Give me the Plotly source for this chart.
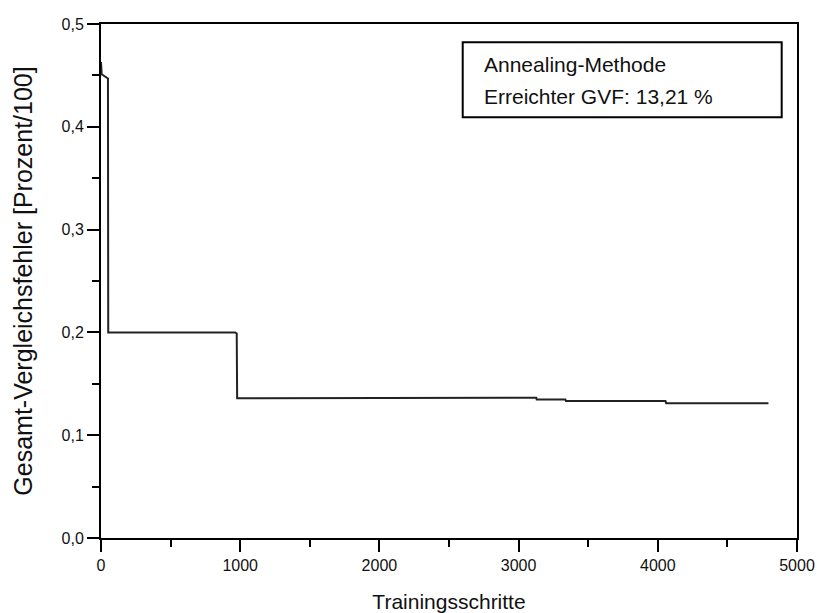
import plotly.graph_objects as go

# Data
steps = [0, 0, 5, 50, 52, 965, 975, 978, 3127, 3130, 3336, 3340, 4055, 4060, 4795]
error = [0.463, 0.452, 0.451, 0.447, 0.200, 0.200, 0.199, 0.136, 0.1364, 0.1348,
         0.1348, 0.1333, 0.1333, 0.1312, 0.1312]

x_ticks = [0, 1000, 2000, 3000, 4000, 5000]
y_ticks = [0.0, 0.1, 0.2, 0.3, 0.4, 0.5]

legend_lines = ["Annealing-Methode", "Erreichter GVF: 13,21 %"]

FONT = "Liberation Sans, Arial, sans-serif"

fig = go.Figure()
fig.add_trace(go.Scatter(x=steps, y=error, mode="lines",
                         line=dict(color="#222222", width=2),
                         showlegend=False, hoverinfo="skip"))

axis_common = dict(showgrid=False, zeroline=False, showline=True, linecolor="black",
                   linewidth=2, mirror=True, ticks="outside", ticklen=12, tickwidth=2,
                   tickcolor="black", automargin=False,
                   tickfont=dict(family=FONT, size=16, color="#111111"))

fig.update_xaxes(range=[0, 5000], tickvals=x_ticks, tickformat="d",
                 minor=dict(dtick=500, ticklen=7, tickwidth=2, tickcolor="black", ticks="outside"),
                 title=dict(text="Trainingsschritte", font=dict(family=FONT, size=21, color="#111111"),
                            standoff=24),
                 **axis_common)
fig.update_yaxes(range=[0, 0.5], tickvals=y_ticks, tickformat=".1f",
                 minor=dict(dtick=0.05, ticklen=7, tickwidth=2, tickcolor="black", ticks="outside"),
                 title=dict(text="Gesamt-Vergleichsfehler [Prozent/100]",
                            font=dict(family=FONT, size=25, color="#111111"), standoff=22),
                 **axis_common)

fig.add_shape(type="rect", xref="paper", yref="paper", x0=0.5197, x1=0.978, y0=0.8187, y1=0.9644,
              line=dict(color="black", width=2), fillcolor="white")
for txt, yy in zip(legend_lines, [0.9203, 0.8587]):
    fig.add_annotation(text=txt, xref="paper", yref="paper", x=0.547, y=yy,
                       xanchor="left", yanchor="middle", showarrow=False,
                       font=dict(family=FONT, size=21, color="#111111"))

fig.update_layout(width=817, height=613, margin=dict(l=101, r=20, t=24, b=75),
                  paper_bgcolor="white", plot_bgcolor="white", separators=",.")

fig.write_html("out.html")
